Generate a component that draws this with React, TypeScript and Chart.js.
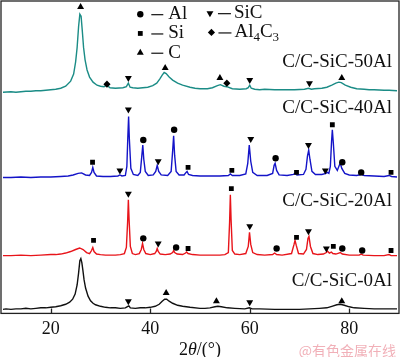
import React, { useEffect, useRef } from 'react';
import { Chart, registerables } from 'chart.js';
import { drawPoint } from 'chart.js/helpers';

Chart.register(...registerables);

// x axis: 2θ (°)
const xMin = 10;
const xMax = 90;
const xTicks = [20, 40, 60, 80];
const yMin = 0;
const yMax = 308;

// diffraction patterns: [2θ, intensity (offset, a.u.)]
const pattern50Al: [number, number][] = [
  [10.4, 218], [12, 218.5], [13, 218], [14, 218.5], [15, 219], [16, 219], [17, 219.5], [18, 219.5], [19, 220], [20, 220.5],
  [21, 221], [22, 222], [23, 224], [24, 229], [24.6, 236], [25.0, 248], [25.3, 262], [25.6, 283], [25.85, 295], [26.1, 293],
  [26.35, 278], [26.6, 262], [26.9, 250], [27.3, 240], [27.8, 233], [28.5, 228], [29.3, 225], [30, 224], [30.7, 223.5], [31.3, 225],
  [31.9, 222.5], [33, 222], [34.5, 222.5], [35.2, 223.5], [35.6, 227], [35.95, 223], [36.5, 222.5], [37.5, 222], [38.5, 222.5], [39.5, 223],
  [40.5, 224.5], [41.3, 227], [41.9, 231], [42.4, 235], [42.8, 237.5], [43.2, 236.5], [43.8, 233], [44.5, 230], [45.5, 227], [46.5, 225],
  [48, 223], [49, 222], [50, 221.5], [51.5, 221.5], [52.5, 222.5], [53.5, 224.5], [54.1, 225.5], [54.8, 224], [55.4, 223.5], [56.5, 221.5],
  [58, 221], [59.3, 221.5], [59.7, 222.5], [60, 225], [60.3, 222], [61, 221], [62, 220.5], [63, 221], [65, 220.5], [67, 220.5],
  [69, 220.5], [71, 221], [71.8, 222], [72.4, 221], [73, 221.5], [74.5, 222], [75.5, 223], [76.5, 225], [77.3, 227], [77.9, 228],
  [78.4, 227.5], [79.2, 225], [80.3, 223], [81.5, 221.5], [83, 221], [84, 220.5], [85, 220.5], [87, 220], [88, 220], [89.6, 219.5],
];

const pattern40Al: [number, number][] = [
  [10.4, 134], [12, 134], [14, 134.5], [16, 134], [18, 134.5], [20, 134.5], [22, 135], [23.5, 135.5], [24.5, 136.5], [25.5, 138],
  [26.2, 138.5], [27, 136.5], [27.8, 136], [28.2, 139], [28.45, 144], [28.7, 139], [29.2, 135.5], [30.5, 135], [32, 135], [33.5, 135.5],
  [33.9, 136.5], [34.3, 135.5], [35, 136], [35.3, 145], [35.5, 175], [35.65, 194], [35.8, 172], [36.1, 143], [36.6, 137], [37.5, 136],
  [38, 139], [38.3, 155], [38.5, 166], [38.7, 152], [39, 140], [39.6, 136], [40.6, 136.5], [41.1, 140], [41.4, 146], [41.7, 140],
  [42.2, 136.5], [43.5, 136], [44.2, 140], [44.5, 160], [44.7, 175], [44.9, 156], [45.2, 140], [45.8, 136.5], [46.8, 136.5], [47.2, 139],
  [47.4, 140], [47.7, 137], [48.5, 136], [50, 135.5], [52, 135.5], [54, 135.5], [55.7, 136], [56.1, 137.5], [56.5, 136], [58, 136],
  [59.2, 137.5], [59.6, 148], [59.9, 166], [60.2, 150], [60.6, 139], [61.5, 136], [63.5, 136], [64.6, 138], [64.9, 146], [65.1, 148],
  [65.4, 141], [65.9, 136.5], [67.5, 136], [68.8, 137], [69.1, 138], [69.5, 136.5], [70.8, 137], [71.3, 142], [71.6, 155], [71.85, 161],
  [72.1, 152], [72.5, 140], [73.2, 137], [74.5, 137], [75.3, 138], [75.6, 139], [75.9, 138], [76.2, 145], [76.45, 170], [76.6, 181],
  [76.8, 168], [77.1, 145], [77.6, 141], [78.0, 146], [78.2, 148], [78.5, 143], [79.1, 138], [80, 136.5], [81.5, 136], [82.4, 137],
  [83, 136], [85, 135.5], [87, 135], [88, 136], [88.5, 135], [89.6, 134.5],
];

const pattern20Al: [number, number][] = [
  [10.4, 57], [12, 57], [14, 57.5], [16, 57], [18, 57.5], [20, 58], [21, 58], [22, 58.5], [23, 59.5], [24, 61],
  [25, 63], [25.8, 64.5], [26.5, 63], [27.2, 60], [27.8, 59], [28.2, 62], [28.45, 65], [28.7, 61], [29.2, 58.5], [30, 58],
  [31, 57.5], [32, 57.5], [33, 57.5], [34, 58], [34.8, 59], [35.2, 65], [35.45, 90], [35.6, 112], [35.75, 92], [36.0, 66],
  [36.4, 59], [37, 58], [37.8, 59], [38.2, 63], [38.45, 69], [38.7, 63], [39.1, 59], [40, 58], [40.9, 59], [41.2, 61],
  [41.4, 64], [41.6, 61], [42, 58.5], [43, 58], [44, 58.5], [44.5, 60], [44.7, 62], [44.9, 60], [45.4, 58.5], [46.5, 58],
  [47.1, 59.5], [47.3, 60.5], [47.6, 59], [48.5, 58], [50, 57.5], [52, 57.5], [54, 57.5], [55, 58], [55.7, 60], [55.95, 90],
  [56.1, 117], [56.25, 92], [56.5, 62], [57, 58.5], [58, 58], [59.2, 59], [59.7, 66], [59.95, 80], [60.2, 68], [60.6, 60],
  [61.5, 58], [63, 57.5], [64.6, 58], [65.0, 59.5], [65.4, 58], [66.5, 57.5], [68.4, 59], [68.9, 68], [69.1, 72], [69.35, 67],
  [69.8, 59], [70.8, 58.5], [71.4, 63], [71.7, 74], [71.9, 76], [72.2, 66], [72.7, 59], [73.7, 58], [74.8, 58.5], [75.4, 60],
  [75.6, 61.5], [76.0, 59.5], [76.4, 60.5], [76.7, 59], [77.3, 58.5], [77.9, 59.5], [78.2, 60], [78.6, 58.5], [80, 57.5], [82, 57.5],
  [82.4, 58.5], [82.8, 57.5], [85, 57], [87, 57], [88, 58], [88.4, 57], [89.6, 57],
];

const pattern0Al: [number, number][] = [
  [10.4, 4], [11, 4.5], [12, 4], [13, 4.5], [14, 4.5], [15, 5], [16, 4.5], [17, 5], [18, 5.5], [19, 5.5],
  [20, 6], [21, 6.5], [22, 7.5], [23, 9], [23.8, 11], [24.4, 14], [24.9, 19], [25.3, 28], [25.6, 40], [25.85, 52],
  [26.05, 54], [26.25, 50], [26.45, 43], [26.7, 33], [27.0, 25], [27.5, 17], [28, 12.5], [28.5, 10], [29, 8.5], [30, 7],
  [31, 6], [32, 5.5], [33, 5.5], [34, 5], [35, 5.5], [35.5, 7], [35.7, 7.5], [36, 5.5], [37, 5], [38, 5.5],
  [39, 5.5], [40, 6], [41, 7], [41.8, 9], [42.4, 12], [42.9, 14], [43.3, 14], [43.8, 12], [44.5, 10], [45.5, 8],
  [46.5, 7], [48, 6], [50, 5], [51, 5], [52, 5.5], [53, 6.5], [53.6, 7], [54.3, 6.5], [55.5, 5.5], [57, 5],
  [59, 4.5], [59.9, 5.5], [60.5, 4.5], [62, 4.5], [65, 4], [68, 4], [70, 4], [72, 4.5], [74, 5], [75.5, 5.5],
  [76.5, 7], [77.5, 8.5], [78.2, 9], [79, 8], [80, 6.5], [81, 5.5], [83, 5], [85, 4.5], [87, 4.5], [89.6, 4.5],
];

// phase markers: [2θ, height]
const alPeaks: [number, number][] = [
  [38.6, 171], [44.8, 181], [65.2, 153], [78.6, 149], [82.4, 139],
  [38.6, 74], [45.2, 65], [65.4, 64], [78.6, 64], [82.6, 62],
];
const siPeaks: [number, number][] = [
  [28.4, 149], [47.6, 144], [56.4, 141], [69.4, 139], [76.6, 186], [88.4, 139],
  [28.6, 72], [47.6, 64], [56.3, 123], [69.4, 75], [76.8, 66], [88.4, 62],
];
const cPeaks: [number, number][] = [
  [26, 302], [43, 242], [54, 232], [78.5, 232],
  [43.2, 20], [53.3, 12], [78.5, 12],
];
const sicPeaks: [number, number][] = [
  [35.6, 232], [60, 230], [72, 227],
  [33.9, 141], [35.6, 201], [41.6, 150], [60.2, 172], [71.8, 166], [75.2, 141],
  [35.6, 118], [41.6, 69], [60, 86], [71.8, 81], [75.4, 64],
  [35.6, 12], [60, 11],
];
const al4c3Peaks: [number, number][] = [
  [31.3, 226], [55.4, 227],
];

const sampleNames = ['C/C-SiC-50Al', 'C/C-SiC-40Al', 'C/C-SiC-20Al', 'C/C-SiC-0Al'];
const sampleLabelY = [248, 202, 111, 32];
const sampleColors = ['#1b8c86', '#1414c8', '#e8141a', '#111111'];
const sampleLabelX = 88.6;

const legendPhases = ['Al', 'Si', 'C', 'SiC', 'Al4C3'];

const SERIF = '"Liberation Serif", "Times New Roman", serif';

export default function App() {
  const ref = useRef<HTMLCanvasElement | null>(null);

  useEffect(() => {
    document.body.style.margin = '0';
    const canvas = ref.current;
    if (!canvas) return;

    const toXY = (arr: [number, number][]) => arr.map(([x, y]) => ({ x, y }));
    const patterns = [pattern50Al, pattern40Al, pattern20Al, pattern0Al];

    const curveSets = patterns.map((p, i) => ({
      type: 'scatter' as const,
      data: toXY(p),
      showLine: true,
      borderColor: sampleColors[i],
      backgroundColor: sampleColors[i],
      borderWidth: 1.4,
      pointRadius: 0,
      tension: 0,
      order: 5,
    }));

    const markerSet = (arr: [number, number][], style: string, radius: number, rotation = 0) => ({
      type: 'scatter' as const,
      data: toXY(arr),
      showLine: false,
      pointStyle: style,
      pointRadius: radius,
      rotation,
      backgroundColor: '#000',
      borderColor: '#000',
      borderWidth: 0,
      order: 1,
    });

    const markers = [
      markerSet(alPeaks, 'circle', 3.2),
      markerSet(siPeaks, 'rect', 3.4),
      markerSet(cPeaks, 'triangle', 4),
      markerSet(sicPeaks, 'triangle', 4, 180),
      markerSet(al4c3Peaks, 'rectRot', 3.6),
    ];

    const overlay = {
      id: 'overlay',
      afterDatasetsDraw(chart: any) {
        const { ctx, chartArea: a, scales } = chart;
        const xs = scales.x;
        const ys = scales.y;
        ctx.save();
        // frame
        ctx.strokeStyle = '#222';
        ctx.lineWidth = 1.3;
        ctx.strokeRect(a.left, a.top, a.right - a.left, a.bottom - a.top);
        // inward ticks
        ctx.beginPath();
        xTicks.forEach((v) => {
          const px = Math.round(xs.getPixelForValue(v)) + 0.5;
          ctx.moveTo(px, a.bottom);
          ctx.lineTo(px, a.bottom - 5);
        });
        ctx.stroke();

        // sample labels
        ctx.fillStyle = '#111';
        ctx.font = `19px ${SERIF}`;
        ctx.textAlign = 'right';
        ctx.textBaseline = 'middle';
        sampleNames.forEach((n, i) => {
          ctx.fillText(n, xs.getPixelForValue(sampleLabelX), ys.getPixelForValue(sampleLabelY[i]));
        });

        // legend
        const legendRows = [
          { style: 'circle', r: 3.2, rot: 0, x: 38, y: 295, d0: 11, d1: 23, t: 28 },
          { style: 'rect', r: 3.4, rot: 0, x: 38, y: 276, d0: 11, d1: 23, t: 28 },
          { style: 'triangle', r: 4, rot: 0, x: 38, y: 257, d0: 11, d1: 23, t: 28 },
          { style: 'triangle', r: 4, rot: 180, x: 52, y: 296, d0: 8, d1: 21, t: 24 },
          { style: 'rectRot', r: 3.6, rot: 0, x: 52.3, y: 277, d0: 7, d1: 20, t: 23 },
        ];
        ctx.textAlign = 'left';
        legendRows.forEach((row, i) => {
          const px = xs.getPixelForValue(row.x);
          const py = ys.getPixelForValue(row.y);
          ctx.fillStyle = '#000';
          drawPoint(ctx, { pointStyle: row.style as any, radius: row.r, rotation: row.rot, borderWidth: 0 }, px, py);
          ctx.strokeStyle = '#111';
          ctx.lineWidth = 1.2;
          ctx.beginPath();
          ctx.moveTo(px + row.d0, py + 0.5);
          ctx.lineTo(px + row.d1, py + 0.5);
          ctx.stroke();
          ctx.fillStyle = '#111';
          const tx = px + row.t;
          const name = legendPhases[i];
          if (name === 'Al4C3') {
            let cx = tx;
            const parts: [string, boolean][] = [['Al', false], ['4', true], ['C', false], ['3', true]];
            parts.forEach(([t, sub]) => {
              ctx.font = sub ? `13px ${SERIF}` : `19px ${SERIF}`;
              ctx.fillText(t, cx, sub ? py + 5 : py);
              cx += ctx.measureText(t).width;
            });
          } else {
            ctx.font = `19px ${SERIF}`;
            ctx.fillText(name, tx, py);
          }
        });

        // axis title 2θ/(°)
        const parts: [string, boolean][] = [['2', false], ['θ', true], ['/(°)', false]];
        let total = 0;
        parts.forEach(([t, it]) => {
          ctx.font = `${it ? 'italic ' : ''}18px ${SERIF}`;
          total += ctx.measureText(t).width;
        });
        let cx = (a.left + a.right) / 2 - total / 2;
        const ty = a.bottom + 37;
        ctx.textAlign = 'left';
        ctx.fillStyle = '#111';
        parts.forEach(([t, it]) => {
          ctx.font = `${it ? 'italic ' : ''}18px ${SERIF}`;
          ctx.fillText(t, cx, ty);
          cx += ctx.measureText(t).width;
        });

        // watermark
        ctx.font = '14px "Noto Sans CJK SC", sans-serif';
        ctx.fillStyle = 'rgba(236,150,160,0.75)';
        ctx.textAlign = 'right';
        ctx.fillText('@有色金属在线', a.right - 3, a.bottom + 37);
        ctx.restore();
      },
    };

    const chart = new Chart(canvas, {
      type: 'scatter',
      data: { datasets: [...markers, ...curveSets] as any },
      options: {
        animation: false,
        responsive: false,
        maintainAspectRatio: false,
        layout: { autoPadding: false, padding: { left: 1, right: 1, top: 1, bottom: 12 } },
        plugins: { legend: { display: false }, tooltip: { enabled: false } },
        scales: {
          x: {
            type: 'linear',
            min: xMin,
            max: xMax,
            afterBuildTicks: (s: any) => {
              s.ticks = xTicks.map((v) => ({ value: v }));
            },
            grid: { display: false, drawTicks: false },
            border: { display: false },
            ticks: { font: { family: SERIF, size: 18 }, color: '#111', padding: 5 },
          },
          y: { display: false, min: yMin, max: yMax },
        },
      },
      plugins: [overlay],
    });
    return () => chart.destroy();
  }, []);

  return (
    <div style={{ width: 400, height: 357 }}>
      <canvas ref={ref} width={400} height={357} style={{ display: 'block' }} />
    </div>
  );
}
